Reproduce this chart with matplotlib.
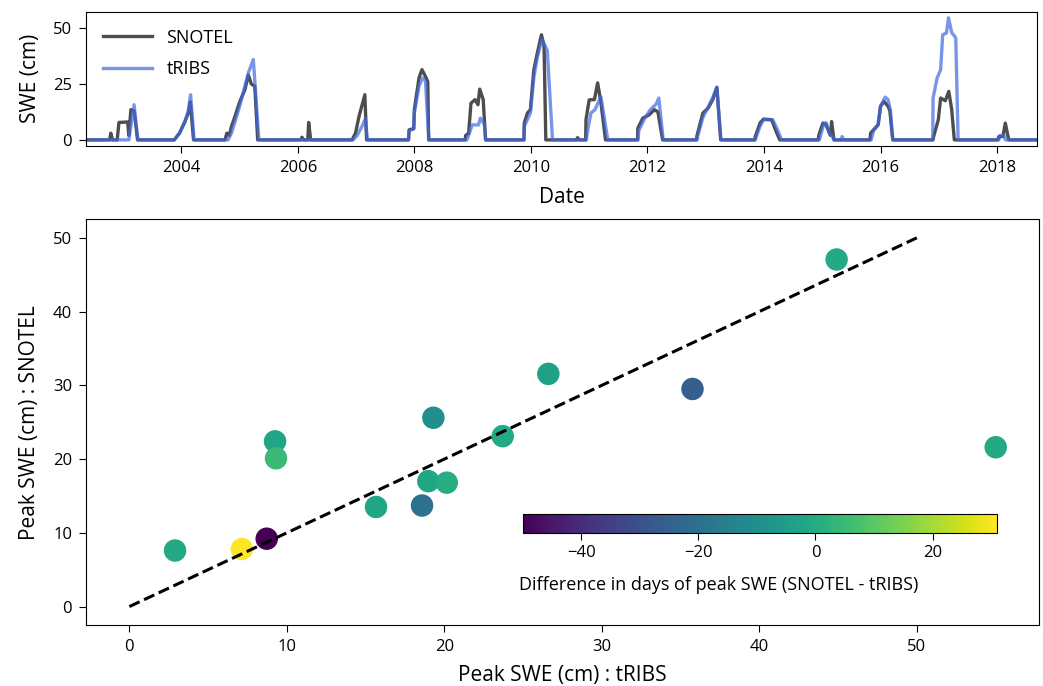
import datetime as dt
import numpy as np
import matplotlib
matplotlib.use("Agg")
import matplotlib.pyplot as plt
import matplotlib.dates as mdates

plt.rcParams['font.family'] = ['Open Sans', 'DejaVu Sans']

snotel_t = [2002.40, 2002.77, 2002.79, 2002.82, 2002.90, 2002.93, 2003.08, 2003.10, 2003.135, 2003.19, 2003.25,
            2003.88, 2003.97, 2004.06, 2004.12, 2004.155, 2004.21,
            2004.75, 2004.78, 2004.82, 2004.86, 2004.92, 2005.00, 2005.09, 2005.15, 2005.20, 2005.26, 2005.31,
            2006.05, 2006.07, 2006.10, 2006.17, 2006.185, 2006.22,
            2006.93, 2006.99, 2007.05, 2007.15, 2007.18,
            2007.90, 2007.91, 2007.99, 2008.00, 2008.08, 2008.13, 2008.19, 2008.23, 2008.245,
            2008.87, 2008.88, 2008.93, 2008.97, 2009.04, 2009.09, 2009.12, 2009.18, 2009.22,
            2009.88, 2009.885, 2009.94, 2009.99, 2010.05, 2010.11, 2010.18, 2010.225, 2010.255,
            2010.78, 2010.80, 2010.83, 2010.94, 2010.945, 2011.00, 2011.09, 2011.145, 2011.20, 2011.28,
            2011.83, 2011.835, 2011.92, 2012.03, 2012.12, 2012.18, 2012.26,
            2012.84, 2012.85, 2012.95, 2013.04, 2013.12, 2013.19, 2013.255,
            2013.84, 2013.85, 2013.93, 2013.99, 2014.13, 2014.22, 2014.27,
            2014.93, 2014.94, 2015.01, 2015.06, 2015.14, 2015.16, 2015.20,
            2015.82, 2015.83, 2015.88, 2015.96, 2016.00, 2016.06, 2016.13, 2016.16, 2016.21,
            2016.90, 2016.91, 2016.99, 2017.03, 2017.11, 2017.17, 2017.22, 2017.265,
            2018.01, 2018.03, 2018.10, 2018.14, 2018.20, 2018.70]
snotel_swe = [0, 0, 3, 0, 0, 7.8, 8, 2, 13.5, 13, 0,
              0, 3, 8, 12, 17, 0,
              0, 3, 2, 6, 10.5, 17, 22.4, 29, 25, 24, 0,
              0, 1.2, 0, 0, 7.8, 0,
              0, 3, 10.5, 20.2, 0,
              0, 4.5, 5, 13.5, 27.7, 31.4, 28.4, 26, 0,
              0, 2, 3, 16.4, 18, 15.7, 22.7, 18, 0,
              0, 7.5, 12, 13.5, 31.4, 38.9, 47, 42, 0,
              0, 1, 0, 0, 9, 17.9, 18, 25.5, 17, 0,
              0, 5.2, 9.7, 11.2, 13.5, 12.5, 0,
              0, 2, 12, 14.2, 18, 23.5, 0,
              0, 1.5, 7.5, 9.3, 9, 3, 0,
              0, 2, 7.5, 7, 2, 8.2, 0,
              0, 3, 4.5, 6.7, 15, 17.2, 15, 13, 0,
              0, 1.5, 9, 18.7, 17.5, 21.7, 13.5, 0,
              0, 1.5, 1.5, 7.5, 0, 0]

tribs_t = [2002.40, 2003.10, 2003.11, 2003.19, 2003.255,
           2003.88, 2003.97, 2004.06, 2004.12, 2004.16, 2004.22,
           2004.80, 2004.86, 2004.92, 2005.00, 2005.09, 2005.15, 2005.235, 2005.33,
           2006.95, 2007.02, 2007.10, 2007.16, 2007.195,
           2007.90, 2007.91, 2007.99, 2008.00, 2008.08, 2008.14, 2008.19, 2008.25,
           2008.90, 2008.93, 2008.99, 2009.10, 2009.13, 2009.20, 2009.225,
           2009.88, 2009.885, 2009.99, 2010.05, 2010.11, 2010.19, 2010.28, 2010.37,
           2010.95, 2010.98, 2011.03, 2011.10, 2011.20, 2011.32,
           2011.84, 2011.85, 2011.94, 2012.05, 2012.15, 2012.195, 2012.27,
           2012.85, 2012.86, 2012.95, 2013.04, 2013.12, 2013.19, 2013.26,
           2013.85, 2013.93, 2013.99, 2014.15, 2014.24, 2014.30,
           2014.95, 2015.03, 2015.07, 2015.12, 2015.16, 2015.20, 2015.33, 2015.34, 2015.37,
           2015.84, 2015.88, 2015.96, 2016.00, 2016.08, 2016.13, 2016.17, 2016.21,
           2016.895, 2016.90, 2016.97, 2017.03, 2017.065, 2017.13, 2017.165, 2017.22, 2017.29, 2017.33,
           2018.03, 2018.05, 2018.12, 2018.14, 2018.70]
tribs_swe = [0, 0, 2, 15.7, 0,
             0, 3, 8, 13, 20.2, 0,
             0, 3, 8, 15, 24, 30, 35.9, 0,
             0, 2, 6, 9.5, 0,
             0, 4, 5, 12, 24, 27.7, 26.5, 0,
             0, 2, 6.7, 6.7, 9.7, 7, 0,
             0, 6, 12, 28, 37, 45, 40, 0,
             0, 5, 12, 13.5, 19.4, 0,
             0, 4, 9, 13.5, 16, 18.7, 0,
             0, 1.5, 10, 14.7, 19, 23.5, 0,
             0, 6, 9, 9, 4, 0,
             0, 7.5, 7.6, 3, 2, 0, 0, 1.5, 0,
             0, 4, 7, 15, 19.1, 18, 13, 0,
             0, 18.7, 27.7, 31.4, 47, 47.8, 54.6, 48, 45.6, 0,
             0, 2, 2, 0, 0]

# peak SWE per water year
peak_tribs = [2.9, 7.14, 8.72, 9.25, 9.31, 15.66, 18.58, 18.98, 20.15, 19.3, 23.7, 26.6, 35.75, 44.9, 55.0]
peak_snotel = [7.6, 7.8, 9.2, 22.4, 20.1, 13.5, 13.7, 17.0, 16.8, 25.6, 23.1, 31.55, 29.5, 47.05, 21.6]
peak_day_diff = [-1, 31, -50, -2, 5, -2, -20, -2, 0, -10, -1, -4, -26, -1, -1]


def to_date(y):
    year = int(y)
    start = dt.datetime(year, 1, 1)
    days = (dt.datetime(year + 1, 1, 1) - start).days
    return start + dt.timedelta(days=(y - year) * days)


fig = plt.figure(figsize=(10.43, 6.86), dpi=100)

ax1 = fig.add_axes([0.0825, 0.7872, 0.9117, 0.1958])
ax1.plot([to_date(t) for t in snotel_t], snotel_swe, color='#4d4d4d', lw=2.4, label='SNOTEL')
ax1.plot([to_date(t) for t in tribs_t], tribs_swe, color='royalblue', lw=2.4, alpha=0.7, label='tRIBS')
ax1.set_xlim(to_date(2002.365), to_date(2018.684))
ax1.set_yticks([0, 25, 50])
ax1.xaxis.set_major_locator(mdates.YearLocator(2))
ax1.xaxis.set_major_formatter(mdates.DateFormatter('%Y'))
ax1.set_xlabel('Date', fontsize=15, labelpad=8)
ax1.set_ylabel('SWE (cm)', fontsize=15, labelpad=9)
ax1.tick_params(labelsize=12, length=5, pad=5)
ax1.legend(loc='upper left', frameon=False, fontsize=13, handlelength=2.7, labelspacing=0.75,
           borderaxespad=0.55)

ax2 = fig.add_axes([0.0825, 0.0889, 0.9137, 0.5914])
sc = ax2.scatter(peak_tribs, peak_snotel, c=peak_day_diff, cmap='viridis', vmin=-50, vmax=31,
                 s=230, zorder=2)
ax2.plot([0, 50], [0, 50], 'k--', lw=2.2, zorder=3)
ax2.set_xlabel('Peak SWE (cm) : tRIBS', fontsize=15, labelpad=7)
ax2.set_ylabel('Peak SWE (cm) : SNOTEL', fontsize=15, labelpad=9)
ax2.tick_params(labelsize=12, length=5, pad=5)

cax = fig.add_axes([0.501, 0.2235, 0.455, 0.0273])
cb = fig.colorbar(sc, cax=cax, orientation='horizontal')
cb.set_ticks([-40, -20, 0, 20])
cb.ax.tick_params(labelsize=12, length=5, pad=4)
cb.set_label('Difference in days of peak SWE (SNOTEL - tRIBS)', fontsize=13)
cb.ax.xaxis.set_label_coords(0.413, -2.3)

fig.savefig('out.png', dpi=100)
